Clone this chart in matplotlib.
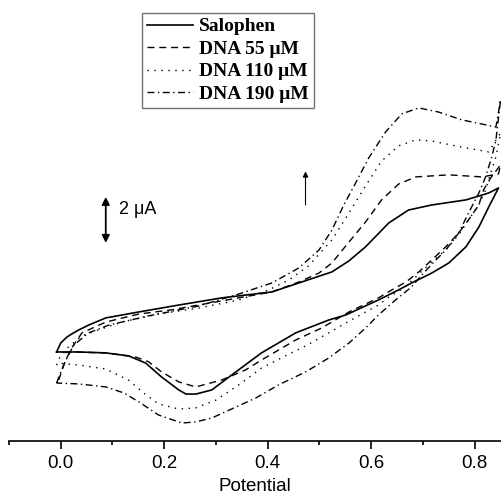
import matplotlib
matplotlib.use("Agg")
import matplotlib.pyplot as plt
from matplotlib.ticker import MultipleLocator

# potential (V) / current (uA) read along each voltammogram loop
sal_v = [-0.008, 0.000, 0.012, 0.021, 0.035, 0.054, 0.087, 0.151, 0.228, 0.311, 0.408,
         0.460, 0.524, 0.557, 0.589, 0.634, 0.672, 0.717, 0.783, 0.827, 0.846,
         0.827, 0.808, 0.783, 0.750, 0.717, 0.678, 0.653, 0.614, 0.551, 0.518, 0.454,
         0.388, 0.325, 0.292, 0.261, 0.242, 0.228, 0.195, 0.164, 0.131, 0.087, 0.035, -0.008]
sal_i = [0.00, 0.39, 0.65, 0.78, 0.96, 1.17, 1.48, 1.74, 2.04, 2.35, 2.61,
         3.00, 3.48, 3.96, 4.57, 5.61, 6.17, 6.39, 6.61, 6.91, 7.13,
         6.30, 5.43, 4.57, 3.87, 3.43, 3.00, 2.70, 2.26, 1.61, 1.39, 0.83,
         -0.04, -1.09, -1.65, -1.83, -1.83, -1.65, -1.09, -0.48, -0.17, -0.04, 0.00, 0.00]

dna55_v = [-0.004, 0.008, 0.021, 0.041, 0.087, 0.151, 0.214, 0.311, 0.408, 0.460, 0.499,
           0.524, 0.557, 0.589, 0.620, 0.653, 0.686, 0.750, 0.814, 0.846, 0.850,
           0.831, 0.817, 0.808, 0.788, 0.769, 0.744, 0.717, 0.692, 0.667, 0.640, 0.614,
           0.557, 0.504, 0.454, 0.388, 0.357, 0.311, 0.261, 0.228, 0.195, 0.170, 0.145,
           0.087, 0.021, 0.000]
dna55_i = [-1.22, -0.43, 0.17, 0.83, 1.30, 1.65, 1.83, 2.22, 2.61, 3.04, 3.43,
           3.87, 4.78, 5.65, 6.61, 7.30, 7.61, 7.70, 7.61, 7.74, 8.13,
           7.57, 7.04, 6.39, 5.74, 5.17, 4.57, 4.00, 3.48, 3.04, 2.70, 2.35,
           1.74, 1.04, 0.52, -0.35, -0.78, -1.22, -1.52, -1.30, -0.87, -0.43, -0.22,
           -0.04, 0.00, -0.04]

dna110_v = [-0.008, 0.000, 0.015, 0.041, 0.073, 0.118, 0.189, 0.267, 0.344, 0.402, 0.441,
            0.479, 0.524, 0.557, 0.589, 0.620, 0.653, 0.686, 0.717, 0.783, 0.827, 0.850,
            0.841, 0.831, 0.821, 0.808, 0.788, 0.769, 0.744, 0.717, 0.692, 0.663, 0.634,
            0.614, 0.582, 0.551, 0.518, 0.473, 0.441, 0.388, 0.344, 0.300, 0.261, 0.228,
            0.189, 0.160, 0.131, 0.087, 0.035, -0.008]
dna110_i = [-0.57, -0.13, 0.22, 0.70, 0.96, 1.30, 1.65, 1.91, 2.26, 2.70, 3.13,
            3.74, 4.87, 6.04, 7.22, 8.30, 8.96, 9.22, 9.17, 8.87, 8.70, 9.52,
            8.48, 7.78, 7.04, 6.39, 5.74, 5.09, 4.43, 3.91, 3.39, 2.78, 2.39,
            2.04, 1.65, 1.26, 0.83, 0.26, -0.09, -0.70, -1.43, -2.09, -2.43, -2.48,
            -2.26, -1.78, -1.22, -0.74, -0.57, -0.48]

dna190_v = [-0.008, 0.000, 0.012, 0.025, 0.054, 0.093, 0.170, 0.267, 0.344, 0.408, 0.460,
            0.499, 0.524, 0.547, 0.570, 0.595, 0.628, 0.659, 0.692, 0.730, 0.775, 0.841, 0.850,
            0.841, 0.833, 0.821, 0.808, 0.788, 0.769, 0.744, 0.721, 0.698, 0.678, 0.647,
            0.614, 0.589, 0.557, 0.518, 0.473, 0.421, 0.377, 0.330, 0.292, 0.261, 0.234,
            0.189, 0.151, 0.122, 0.087, 0.035, -0.008]
dna190_i = [-1.35, -0.87, -0.26, 0.30, 0.83, 1.17, 1.57, 2.00, 2.52, 3.00, 3.65,
            4.43, 5.30, 6.39, 7.35, 8.43, 9.57, 10.35, 10.61, 10.43, 10.09, 9.78, 10.96,
            9.22, 8.48, 7.61, 6.91, 6.04, 5.17, 4.43, 3.91, 3.35, 2.83, 2.26,
            1.61, 1.04, 0.39, -0.26, -0.87, -1.43, -2.00, -2.48, -2.87, -3.04, -3.09,
            -2.74, -2.17, -1.78, -1.52, -1.39, -1.35]

labels = ["Salophen", "DNA 55 \u03bcM", "DNA 110 \u03bcM", "DNA 190 \u03bcM"]
ticks = [0.0, 0.2, 0.4, 0.6, 0.8]

sans = "Liberation Sans"

fig = plt.figure(figsize=(5.01, 4.98), dpi=100)
ax = fig.add_axes([9 / 501, 57 / 498, 492 / 501, 441 / 498])

ax.plot(sal_v, sal_i, color="black", lw=1.2, ls="-", label=labels[0])
ax.plot(dna55_v, dna55_i, color="black", lw=1.0, ls=(0, (5, 3.5)), label=labels[1])
ax.plot(dna110_v, dna110_i, color="black", lw=1.0, ls=(0, (1, 4)), label=labels[2])
ax.plot(dna190_v, dna190_i, color="black", lw=1.0, ls=(0, (5, 2.5, 1, 2.5)), label=labels[3])

ax.set_xlim(-0.1, 0.8508)
ax.set_ylim(-3.87, 15.30)

for s in ("left", "top", "right"):
    ax.spines[s].set_visible(False)
ax.spines["bottom"].set_linewidth(1.2)
ax.set_yticks([])
ax.set_xticks(ticks)
ax.set_xticklabels([f"{t:.1f}" for t in ticks], family=sans, fontsize=13.5)
ax.xaxis.set_minor_locator(MultipleLocator(0.1))
ax.tick_params(axis="x", which="major", length=6, width=1.2, pad=4)
ax.tick_params(axis="x", which="minor", length=3, width=1.2)
ax.set_xlabel("Potential", family=sans, fontsize=13.5, labelpad=4.5)

# 2 uA scale bar
ax.annotate("", xy=(0.087, 6.74), xytext=(0.087, 4.74),
            arrowprops=dict(arrowstyle="<|-|>", color="black", lw=1.3,
                            mutation_scale=11, shrinkA=0, shrinkB=0))
ax.text(0.112, 6.2, "2 \u03bcA", family=sans, fontsize=13, va="center", ha="left")

# direction of increasing DNA concentration
ax.annotate("", xy=(0.473, 7.85), xytext=(0.473, 6.39),
            arrowprops=dict(arrowstyle="-|>", color="black", lw=0.8,
                            mutation_scale=8, shrinkA=0, shrinkB=0))

leg = fig.legend(loc="upper left", bbox_to_anchor=(142 / 501, 1 - 13 / 498),
                 prop={"family": "Liberation Serif", "weight": "bold", "size": 14},
                 frameon=True, fancybox=False, handlelength=2.35, handletextpad=0.35,
                 labelspacing=0.25, borderpad=0.25, borderaxespad=0)
leg.get_frame().set_edgecolor("0.3")
leg.get_frame().set_linewidth(1.0)

fig.savefig("out.png", dpi=100)
